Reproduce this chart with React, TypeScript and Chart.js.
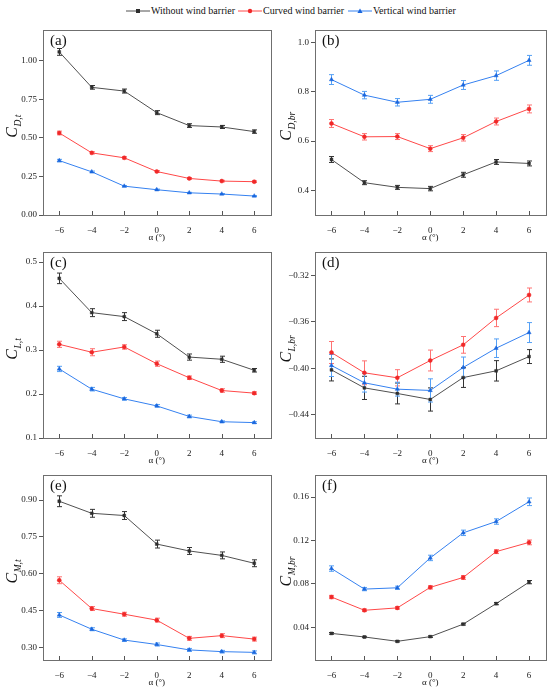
import { Chart, registerables, Plugin } from 'chart.js';
import { useEffect, useRef } from 'react';

Chart.register(...registerables);

const FONT = "'Liberation Serif', 'Times New Roman', serif";

const alpha = [-6, -4, -2, 0, 2, 4, 6];
const seriesNames = ['Without wind barrier', 'Curved wind barrier', 'Vertical wind barrier'];
const lineColors = ['#505050', '#ff4848', '#3581f0'];
const markColors = ['#2e2e2e', '#f02828', '#1a66dd'];
const errColors = ['#333333', '#ff7272', '#55a0f5'];
const markStyles = ['rect', 'circle', 'triangle'] as const;

// (a) C_D,t
const cdtWithout = [1.058, 0.828, 0.804, 0.664, 0.58, 0.571, 0.541];
const cdtWithoutErr = [0.022, 0.012, 0.013, 0.013, 0.012, 0.01, 0.011];
const cdtCurved = [0.532, 0.403, 0.371, 0.282, 0.237, 0.22, 0.216];
const cdtCurvedErr = [0.012, 0.007, 0.007, 0.006, 0.006, 0.005, 0.005];
const cdtVertical = [0.353, 0.28, 0.187, 0.164, 0.144, 0.136, 0.123];
const cdtVerticalErr = [0.008, 0.005, 0.004, 0.004, 0.003, 0.003, 0.003];

// (b) C_D,br
const cdbWithout = [0.525, 0.431, 0.412, 0.407, 0.463, 0.515, 0.509];
const cdbWithoutErr = [0.012, 0.008, 0.008, 0.009, 0.01, 0.01, 0.01];
const cdbCurved = [0.671, 0.617, 0.618, 0.569, 0.613, 0.679, 0.73];
const cdbCurvedErr = [0.016, 0.013, 0.012, 0.012, 0.013, 0.014, 0.016];
const cdbVertical = [0.849, 0.786, 0.757, 0.769, 0.827, 0.865, 0.927];
const cdbVerticalErr = [0.02, 0.015, 0.015, 0.016, 0.018, 0.019, 0.02];

// (c) C_L,t
const cltWithout = [0.463, 0.385, 0.376, 0.337, 0.284, 0.279, 0.254];
const cltWithoutErr = [0.012, 0.009, 0.009, 0.008, 0.007, 0.007, 0.004];
const cltCurved = [0.313, 0.295, 0.307, 0.269, 0.237, 0.208, 0.202];
const cltCurvedErr = [0.007, 0.008, 0.005, 0.006, 0.004, 0.004, 0.003];
const cltVertical = [0.257, 0.211, 0.189, 0.173, 0.149, 0.137, 0.135];
const cltVerticalErr = [0.006, 0.004, 0.003, 0.003, 0.003, 0.002, 0.002];

// (d) C_L,br
const clbWithout = [-0.4013, -0.4168, -0.4216, -0.4268, -0.4079, -0.4021, -0.3898];
const clbWithoutErr = [0.0095, 0.01, 0.009, 0.01, 0.0085, 0.0088, 0.006];
const clbCurved = [-0.3863, -0.4038, -0.4081, -0.3932, -0.3797, -0.3565, -0.3367];
const clbCurvedErr = [0.0095, 0.0103, 0.007, 0.009, 0.0072, 0.0075, 0.006];
const clbVertical = [-0.3975, -0.4124, -0.4179, -0.419, -0.3992, -0.3826, -0.3691];
const clbVerticalErr = [0.0095, 0.008, 0.006, 0.01, 0.009, 0.008, 0.0086];

// (e) C_M,t
const cmtWithout = [0.895, 0.846, 0.837, 0.721, 0.693, 0.675, 0.643];
const cmtWithoutErr = [0.022, 0.016, 0.016, 0.016, 0.014, 0.014, 0.014];
const cmtCurved = [0.574, 0.459, 0.436, 0.412, 0.338, 0.349, 0.335];
const cmtCurvedErr = [0.014, 0.008, 0.008, 0.008, 0.008, 0.008, 0.008];
const cmtVertical = [0.433, 0.375, 0.331, 0.313, 0.291, 0.284, 0.281];
const cmtVerticalErr = [0.01, 0.006, 0.005, 0.006, 0.006, 0.005, 0.006];

// (f) C_M,br
const cmbWithout = [0.0345, 0.0312, 0.0272, 0.0315, 0.043, 0.0619, 0.0817];
const cmbWithoutErr = [0.0008, 0.0006, 0.0006, 0.0007, 0.0008, 0.001, 0.0015];
const cmbCurved = [0.068, 0.0558, 0.058, 0.0769, 0.086, 0.1098, 0.1183];
const cmbCurvedErr = [0.0015, 0.0012, 0.0012, 0.0015, 0.0018, 0.0018, 0.0022];
const cmbVertical = [0.0942, 0.0753, 0.0765, 0.104, 0.1271, 0.1375, 0.1557];
const cmbVerticalErr = [0.0025, 0.0015, 0.0015, 0.0025, 0.0025, 0.0025, 0.0035];

interface PanelSpec {
  tag: string;
  sub: string;
  min: number;
  max: number;
  ticks: number[];
  digits: number;
  values: number[][];
  errs: number[][];
}

const panels: PanelSpec[] = [
  { tag: '(a)', sub: 'D,t', min: 0, max: 1.2, ticks: [0, 0.25, 0.5, 0.75, 1.0], digits: 2,
    values: [cdtWithout, cdtCurved, cdtVertical], errs: [cdtWithoutErr, cdtCurvedErr, cdtVerticalErr] },
  { tag: '(b)', sub: 'D,br', min: 0.3, max: 1.05, ticks: [0.4, 0.6, 0.8, 1.0], digits: 1,
    values: [cdbWithout, cdbCurved, cdbVertical], errs: [cdbWithoutErr, cdbCurvedErr, cdbVerticalErr] },
  { tag: '(c)', sub: 'L,t', min: 0.1, max: 0.522, ticks: [0.1, 0.2, 0.3, 0.4, 0.5], digits: 1,
    values: [cltWithout, cltCurved, cltVertical], errs: [cltWithoutErr, cltCurvedErr, cltVerticalErr] },
  { tag: '(d)', sub: 'L,br', min: -0.46, max: -0.3, ticks: [-0.44, -0.4, -0.36, -0.32], digits: 2,
    values: [clbWithout, clbCurved, clbVertical], errs: [clbWithoutErr, clbCurvedErr, clbVerticalErr] },
  { tag: '(e)', sub: 'M,t', min: 0.25, max: 1.0, ticks: [0.3, 0.45, 0.6, 0.75, 0.9], digits: 2,
    values: [cmtWithout, cmtCurved, cmtVertical], errs: [cmtWithoutErr, cmtCurvedErr, cmtVerticalErr] },
  { tag: '(f)', sub: 'M,br', min: 0.01, max: 0.18, ticks: [0.04, 0.08, 0.12, 0.16], digits: 2,
    values: [cmbWithout, cmbCurved, cmbVertical], errs: [cmbWithoutErr, cmbCurvedErr, cmbVerticalErr] },
];

// canvas boxes (page px)
const COLS = [
  { x: 0, w: 275, plotL: 43, padR: 2, titleOff: 26 },
  { x: 275, w: 275, plotL: 40, padR: 4.5, titleOff: 24 },
];
const ROWS = [
  { y: 20, h: 225, padT: 10, xH: 30 },
  { y: 245, h: 223, padT: 6.5, xH: 30 },
  { y: 468, h: 227, padT: 6, xH: 35 },
];

const fmt = (v: number, d: number) => {
  const s = Math.abs(v).toFixed(d);
  return v < -1e-9 ? '\u2212' + s : s;
};

const makeDecor = (spec: PanelSpec, titleOff: number): Plugin<'line'> => ({
  id: 'decor',
  beforeDatasetsDraw(chart) {
    const { ctx } = chart;
    const xs = chart.scales.x;
    const ys = chart.scales.y;
    ctx.save();
    ctx.lineWidth = 1;
    spec.values.forEach((vals, s) => {
      ctx.strokeStyle = errColors[s];
      vals.forEach((v, i) => {
        const px = Math.round(xs.getPixelForValue(alpha[i])) + 0.5;
        const hi = ys.getPixelForValue(v + spec.errs[s][i]);
        const lo = ys.getPixelForValue(v - spec.errs[s][i]);
        ctx.beginPath();
        ctx.moveTo(px, hi);
        ctx.lineTo(px, lo);
        ctx.moveTo(px - 2.5, hi);
        ctx.lineTo(px + 2.5, hi);
        ctx.moveTo(px - 2.5, lo);
        ctx.lineTo(px + 2.5, lo);
        ctx.stroke();
      });
    });
    ctx.restore();
  },
  afterDraw(chart) {
    const { ctx, chartArea: a } = chart;
    const xs = chart.scales.x;
    ctx.save();
    // frame
    ctx.strokeStyle = '#6f6f6f';
    ctx.lineWidth = 1;
    ctx.strokeRect(Math.round(a.left) + 0.5, Math.round(a.top) + 0.5,
      Math.round(a.right - a.left), Math.round(a.bottom - a.top));
    // inward x ticks
    ctx.strokeStyle = '#555';
    ctx.beginPath();
    alpha.forEach((v) => {
      const px = Math.round(xs.getPixelForValue(v)) + 0.5;
      ctx.moveTo(px, a.bottom);
      ctx.lineTo(px, a.bottom - 4);
    });
    ctx.stroke();
    // panel tag
    ctx.fillStyle = '#111';
    ctx.font = `15px ${FONT}`;
    ctx.textBaseline = 'alphabetic';
    ctx.textAlign = 'left';
    ctx.fillText(spec.tag, a.left + 7, a.top + 15);
    // x title
    ctx.font = `9px ${FONT}`;
    ctx.textAlign = 'center';
    ctx.textBaseline = 'middle';
    ctx.fillText('\u03b1 (\u00b0)', (a.left + a.right) / 2, a.bottom + 23);
    // y title C with subscript
    const main = `italic 16px ${FONT}`;
    const small = `italic 9.5px ${FONT}`;
    ctx.font = main;
    const wC = ctx.measureText('C').width;
    ctx.font = small;
    const wS = ctx.measureText(spec.sub).width;
    ctx.translate(a.left - titleOff, (a.top + a.bottom) / 2 + 4);
    ctx.rotate(-Math.PI / 2);
    ctx.textAlign = 'left';
    ctx.textBaseline = 'alphabetic';
    const start = -(wC + wS) / 2;
    ctx.font = main;
    ctx.fillText('C', start, 0);
    ctx.font = small;
    ctx.fillText(spec.sub, start + wC + 0.5, 3.5);
    ctx.restore();
  },
});

interface PanelProps {
  spec: PanelSpec;
  col: (typeof COLS)[number];
  row: (typeof ROWS)[number];
}

const Panel = ({ spec, col, row }: PanelProps) => {
  const chartRef = useRef<HTMLCanvasElement>(null);
  const chartInstanceRef = useRef<Chart | null>(null);

  useEffect(() => {
    if (!chartRef.current) return;
    if (chartInstanceRef.current) chartInstanceRef.current.destroy();
    chartInstanceRef.current = new Chart(chartRef.current, {
      type: 'line',
      data: {
        datasets: spec.values.map((vals, s) => ({
          label: seriesNames[s],
          data: alpha.map((x, i) => ({ x, y: vals[i] })),
          borderColor: lineColors[s],
          borderWidth: 1,
          pointStyle: markStyles[s],
          pointRadius: s === 2 ? 2.4 : 2,
          pointBackgroundColor: markColors[s],
          pointBorderColor: markColors[s],
          pointBorderWidth: 0.5,
          tension: 0,
        })),
      },
      options: {
        responsive: false,
        animation: false,
        layout: { padding: { left: 0, top: row.padT, right: col.padR, bottom: 0 } },
        plugins: { legend: { display: false }, tooltip: { enabled: false } },
        scales: {
          x: {
            type: 'linear',
            min: -7,
            max: 7,
            afterBuildTicks: (s) => { s.ticks = alpha.map((v) => ({ value: v })); },
            afterFit: (s) => { s.height = row.xH; },
            grid: { display: false },
            border: { display: false },
            ticks: {
              autoSkip: false,
              maxRotation: 0,
              padding: 2,
              color: '#222',
              font: { family: FONT, size: 9 },
              callback: (v) => fmt(Number(v), 0),
            },
          },
          y: {
            type: 'linear',
            min: spec.min,
            max: spec.max,
            afterBuildTicks: (s) => { s.ticks = spec.ticks.map((v) => ({ value: v })); },
            afterFit: (s) => { s.width = col.plotL; },
            grid: { display: true, drawOnChartArea: false, drawTicks: true, tickLength: 4, color: '#555' },
            border: { display: false },
            ticks: {
              autoSkip: false,
              padding: 2,
              color: '#222',
              font: { family: FONT, size: 9 },
              callback: (v) => fmt(Number(v), spec.digits),
            },
          },
        },
      },
      plugins: [makeDecor(spec, col.titleOff)],
    });

    return () => {
      if (chartInstanceRef.current) chartInstanceRef.current.destroy();
      chartInstanceRef.current = null;
    };
  }, [spec, col, row]);

  return (
    <canvas
      ref={chartRef}
      width={col.w}
      height={row.h}
      style={{ position: 'absolute', left: col.x, top: row.y, width: col.w, height: row.h }}
    />
  );
};

const legendLeft = [126, 238, 348];

const Marker = ({ s }: { s: number }) => {
  if (s === 0) return <rect x={10} y={3} width={4} height={4} fill={markColors[0]} />;
  if (s === 1) return <circle cx={12} cy={5} r={2.2} fill={markColors[1]} />;
  return <polygon points="12,2.4 14.6,7 9.4,7" fill={markColors[2]} />;
};

const App = () => (
  <div style={{ position: 'absolute', left: 0, top: 0, width: 550, height: 695, background: '#fff', fontFamily: FONT }}>
    {seriesNames.map((name, s) => (
      <div
        key={name}
        style={{ position: 'absolute', left: legendLeft[s], top: 5, height: 12, display: 'flex', alignItems: 'center', whiteSpace: 'nowrap' }}
      >
        <svg width={24} height={10} style={{ display: 'block' }}>
          <line x1={0} y1={5} x2={24} y2={5} stroke={lineColors[s]} strokeWidth={1} />
          <Marker s={s} />
        </svg>
        <span style={{ fontSize: 10, color: '#111', marginLeft: 1, lineHeight: '12px' }}>{name}</span>
      </div>
    ))}
    {panels.map((spec, i) => (
      <Panel key={spec.tag} spec={spec} col={COLS[i % 2]} row={ROWS[Math.floor(i / 2)]} />
    ))}
  </div>
);

export default App;
